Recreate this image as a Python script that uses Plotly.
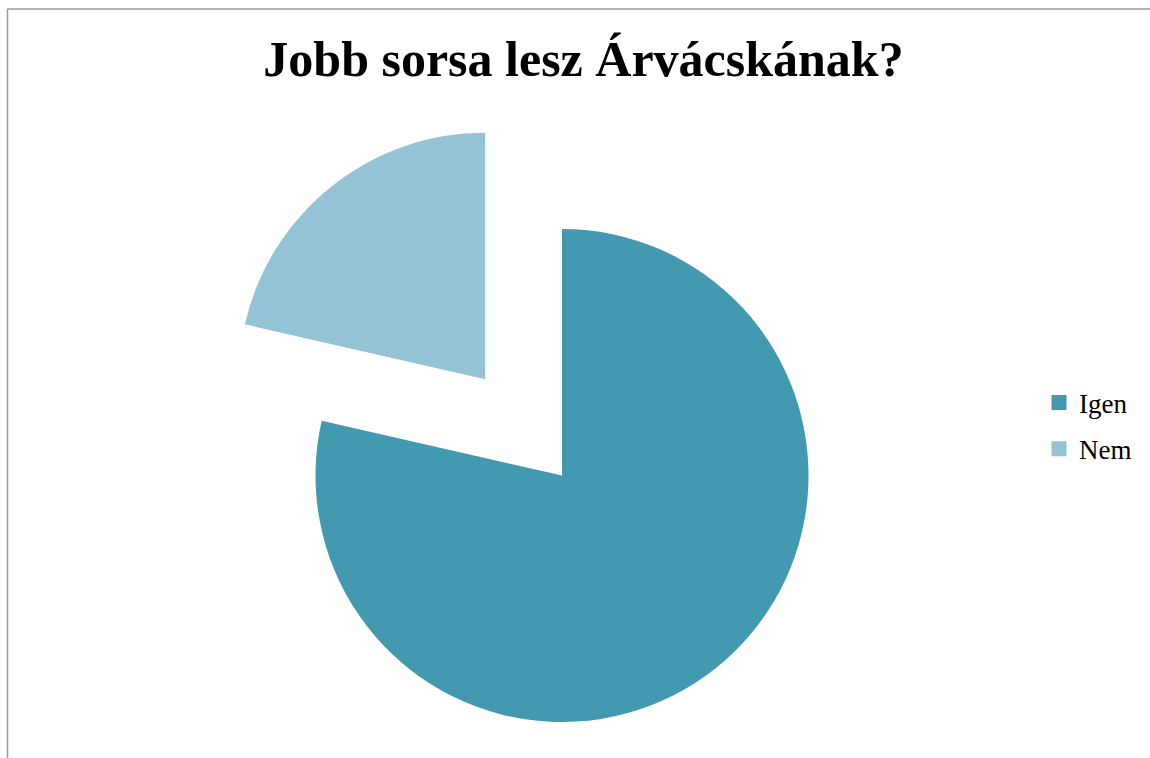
import math
import plotly.graph_objects as go

# ---- data ----
labels = ["Igen", "Nem"]
values = [11, 3]
colors = ["#4399B0", "#93C3D4"]
title_text = "Jobb sorsa lesz Árvácskának?"

W, H = 1150, 758
CX, CY, R = 562.0, 475.5, 246.5   # pie centre / radius in px
PULL = 0.5                         # Nem slice pulled out by half a radius

def domain_for(cx, cy, r):
    return dict(x=[(cx - r) / W, (cx + r) / W],
                y=[(H - cy - r) / H, (H - cy + r) / H])

# bisector of the pulled slice (clockwise from 12 o'clock)
total = sum(values)
start = values[0] / total * 360.0
mid = math.radians(start + values[1] / total * 360.0 / 2)
dx = math.sin(mid) * PULL * R
dy = -math.cos(mid) * PULL * R

transparent = "rgba(0,0,0,0)"
fig = go.Figure()
fig.add_trace(go.Pie(
    labels=labels, values=values, sort=False, direction="clockwise", rotation=0,
    marker=dict(colors=[colors[0], transparent], line=dict(width=0)),
    textinfo="none", showlegend=False, domain=domain_for(CX, CY, R),
))
fig.add_trace(go.Pie(
    labels=labels, values=values, sort=False, direction="clockwise", rotation=0,
    marker=dict(colors=[transparent, colors[1]], line=dict(width=0)),
    textinfo="none", showlegend=False, domain=domain_for(CX + dx, CY + dy, R),
))
# legend entries
for lab, col in zip(labels, colors):
    fig.add_trace(go.Scatter(
        x=[None], y=[None], mode="markers", name=lab, legendgroup=lab,
        marker=dict(symbol="square", size=15, color=col),
    ))

fig.update_layout(
    width=W, height=H,
    margin=dict(l=0, r=0, t=0, b=0),
    paper_bgcolor="white", plot_bgcolor="white",
    xaxis=dict(visible=False), yaxis=dict(visible=False),
    title=dict(text=title_text, x=583.5 / W, xanchor="center",
               y=1 - 58 / H, yanchor="middle",
               font=dict(family="Liberation Serif", size=50, color="black", weight="bold")),
    legend=dict(x=1039 / W, xanchor="left", y=1 - 426 / H, yanchor="middle",
                font=dict(family="Liberation Serif", size=27, color="black"),
                tracegroupgap=8, bgcolor="rgba(0,0,0,0)"),
    shapes=[
        dict(type="line", xref="paper", yref="paper", x0=7.5 / W, x1=1.0,
             y0=1 - 9 / H, y1=1 - 9 / H, line=dict(color="#999999", width=1.5)),
        dict(type="line", xref="paper", yref="paper", x0=7.5 / W, x1=7.5 / W,
             y0=1 - 9 / H, y1=0, line=dict(color="#999999", width=1.5)),
    ],
)

fig.write_html("out.html", config={"displayModeBar": False},
               post_script="document.body.style.margin='0';")
